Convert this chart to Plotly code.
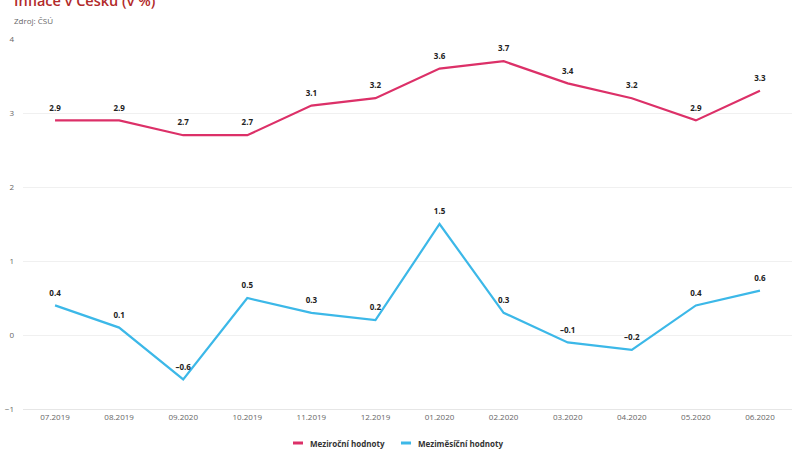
import plotly.graph_objects as go

months = ["07.2019", "08.2019", "09.2020", "10.2019", "11.2019", "12.2019",
          "01.2020", "02.2020", "03.2020", "04.2020", "05.2020", "06.2020"]
yoy = [2.9, 2.9, 2.7, 2.7, 3.1, 3.2, 3.6, 3.7, 3.4, 3.2, 2.9, 3.3]
mom = [0.4, 0.1, -0.6, 0.5, 0.3, 0.2, 1.5, 0.3, -0.1, -0.2, 0.4, 0.6]
y_ticks = [-1, 0, 1, 2, 3, 4]
series_names = ["Meziroční hodnoty", "Meziměsíční hodnoty"]
series_colors = ["#dc3068", "#3cb8e8"]

def lbl(v):
    return f"{v:.1f}".replace("-", "\u2013")

fig = go.Figure()
for name, vals, col in zip(series_names, [yoy, mom], series_colors):
    fig.add_trace(go.Scatter(
        x=months, y=vals, name=name, mode="lines+markers+text",
        line=dict(color=col, width=2.2),
        marker=dict(size=11, color="rgba(0,0,0,0)"),
        text=[lbl(v) for v in vals], textposition="top center",
        textfont=dict(family="Open Sans", size=8, color="#222222", weight="bold"),
        cliponaxis=False, showlegend=False,
    ))

# custom compact legend (short line symbols)
leg_y = -0.0919
leg_pos = [(0.3511, 0.3641, 0.3706), (0.4915, 0.5046, 0.5111)]
shapes = []
annotations = []
for (x0, x1, xt), name, col in zip(leg_pos, series_names, series_colors):
    shapes.append(dict(type="line", xref="paper", yref="paper", x0=x0, x1=x1,
                       y0=leg_y, y1=leg_y, line=dict(color=col, width=3)))
    annotations.append(dict(text=name, xref="paper", yref="paper", x=xt, y=leg_y,
                            xanchor="left", yanchor="middle", showarrow=False,
                            font=dict(family="Open Sans", size=8, color="#333333",
                                      weight="bold")))

annotations += [
    dict(text="Inflace v Česku (v %)", xref="paper", yref="paper",
         x=-0.0143, y=1.074, xanchor="left", yanchor="bottom", showarrow=False,
         font=dict(family="Open Sans", size=14.5, color="#b22a2a", weight=600)),
    dict(text="Zdroj: ČSÚ", xref="paper", yref="paper",
         x=-0.0143, y=1.03, xanchor="left", yanchor="bottom", showarrow=False,
         font=dict(family="Open Sans", size=8, color="#666666")),
]

fig.update_layout(
    width=800, height=449,
    margin=dict(l=23, r=8, t=39, b=40, autoexpand=False),
    paper_bgcolor="white", plot_bgcolor="white",
    font=dict(family="Open Sans", color="#666666", size=9),
    showlegend=False,
    xaxis=dict(type="category", showgrid=False, zeroline=False, automargin=False,
               showline=True, linecolor="#e6e6e6", linewidth=1,
               tickfont=dict(size=8, color="#666666"), ticks="",
               range=[-0.5, len(months) - 0.5]),
    yaxis=dict(range=[-1, 4], tickvals=y_ticks, showgrid=True, gridcolor="#f0f0f0",
               zeroline=False, tickfont=dict(size=8, color="#666666"), automargin=False,
               ticklabelstandoff=8, showline=False),
    shapes=shapes,
    annotations=annotations,
)
fig.write_html("out.html", config={"displayModeBar": False},
               post_script="document.body.style.margin='0';document.body.style.overflow='hidden';")
